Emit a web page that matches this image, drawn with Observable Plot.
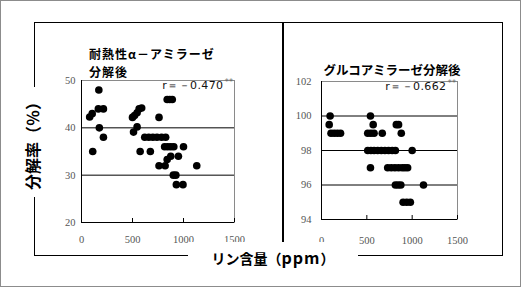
<!DOCTYPE html>
<html>
<head>
<meta charset="utf-8">
<script src="https://cdn.jsdelivr.net/npm/d3@7"></script>
<script src="https://cdn.jsdelivr.net/npm/@observablehq/plot@0.6"></script>
<style>
  html, body { margin: 0; padding: 0; background: #fff; }
  #page { position: relative; width: 521px; height: 287px; overflow: hidden; background: #fff; font-family: "Noto Sans CJK JP", sans-serif; }
  .abs { position: absolute; box-sizing: border-box; }
  .box { border: 1px solid #000; }
  .ttl { font-weight: bold; color: #000; white-space: nowrap; }
  g[aria-label="text"] text { letter-spacing: 0.4px; }
</style>
</head>
<body>
<div id="page">
  <div class="abs" style="left:0;top:0;width:521px;height:287px;border:1px solid #8c8c8c;"></div>
  <div class="abs box" style="left:34px;top:22px;width:250px;height:234px;"></div>
  <div class="abs box" style="left:282px;top:22px;width:221px;height:234px;"></div>
  <div id="leftPlot" class="abs" style="left:40px;top:70px;"></div>
  <div id="rightPlot" class="abs" style="left:280px;top:70px;"></div>
  <div id="leftTitle1" class="abs ttl" style="left:89px;top:46px;height:16px;font-size:12px;line-height:16px;letter-spacing:1px;"></div>
  <div id="leftTitle2" class="abs ttl" style="left:89px;top:64px;height:16px;font-size:12px;line-height:16px;letter-spacing:1px;"></div>
  <div id="rightTitle" class="abs ttl" style="left:292px;top:62px;width:200px;height:16px;text-align:center;font-size:12.5px;line-height:16px;"></div>
  <div id="yLabel" class="abs ttl" style="left:-23px;top:132px;width:110px;height:20px;line-height:20px;text-align:center;background:#fff;font-size:16px;transform:rotate(-90deg);"></div>
  <div id="xLabel" class="abs ttl" style="left:188px;top:242px;width:170px;height:28px;padding-top:2px;line-height:26px;text-align:center;background:#fff;font-size:14px;"></div>
</div>
<script>
// ---- text ----
const leftTitleLines = ["耐熱性α－アミラーゼ", "分解後"];
const rightTitleText = "グルコアミラーゼ分解後";
const yLabelText = "分解率（％）";
const xLabelMain = "リン含量";
const xLabelUnit = "ppm";
const leftR = "r＝－0.470";
const rightR = "r＝－0.662";
const sigMark = "**";

// ---- axes ----
const xTicks = [0, 500, 1000, 1500];
const leftYTicks = [20, 30, 40, 50];
const leftGrid = [30, 40];
const rightYTicks = [94, 96, 98, 100, 102];
const rightGrid = [96, 98, 100];

// ---- data: 耐熱性α-アミラーゼ分解後 ----
const leftP = [80, 105, 170, 165, 215, 175, 215, 110,
  500, 520, 545, 565, 590, 510, 545, 575, 675, 760,
  620, 660, 700, 740, 785, 825,
  840, 865, 890,
  815, 845, 875, 905, 1000,
  875, 950, 840, 760, 820, 1130,
  900, 925, 930, 995];
const leftV = [42.3, 43, 48, 44, 44, 40, 38, 35,
  42.2, 42.6, 43.2, 44, 44.2, 39.1, 40.2, 35, 35, 42.2,
  38, 38, 38, 38, 38, 38,
  46, 46, 46,
  36, 36, 36, 36, 36,
  34, 34, 33.3, 32, 32, 32,
  30, 30, 28, 28];

// ---- data: グルコアミラーゼ分解後 ----
const rightP = [95, 540,
  85, 570, 825, 850,
  105, 140, 175, 210, 510, 545, 580, 670, 880,
  510, 545, 580, 620, 660, 700, 740, 780, 815, 1000,
  540, 730, 770, 810, 850, 890, 920, 950,
  815, 845, 875, 1125,
  900, 940, 980];
const rightV = [100, 100,
  99.5, 99.5, 99.5, 99.5,
  99, 99, 99, 99, 99, 99, 99, 99, 99,
  98, 98, 98, 98, 98, 98, 98, 98, 98, 98,
  97, 97, 97, 97, 97, 97, 97, 97,
  96, 96, 96, 96,
  95, 95, 95];

const leftData = leftP.map((p, i) => ({p, v: leftV[i]}));
const rightData = rightP.map((p, i) => ({p, v: rightV[i]}));

function panel({data, yDomain, yTicks, grid, rText, width, height, mL, mR, mT, mB, xPad, yPad}) {
  const plotH = height - mT - mB;
  return Plot.plot({
    width, height,
    marginLeft: mL, marginRight: mR, marginTop: mT, marginBottom: mB,
    style: {fontFamily: "Liberation Serif, serif", fontSize: "10.5px", color: "#555", background: "transparent", overflow: "visible"},
    x: {domain: [0, 1500], ticks: xTicks, tickSize: 0, tickPadding: xPad, tickFormat: d3.format("d"), label: null},
    y: {domain: yDomain, ticks: yTicks, tickSize: 0, tickPadding: yPad, tickFormat: d3.format("d"), label: null},
    marks: [
      Plot.frame({stroke: "#8a8a8a"}),
      Plot.ruleY(grid, {stroke: "#000", strokeWidth: 1}),
      Plot.ruleY([yDomain[0]], {stroke: "#000"}),
      Plot.ruleX([0], {stroke: "#000"}),
      Plot.ruleX(xTicks, {stroke: "#000", insetTop: plotH - 4}),
      Plot.dot(data, {x: "p", y: "v", r: 3.8, fill: "#000", stroke: "none"}),
      Plot.text([rText], {frameAnchor: "top-right", text: d => d, dx: -11, dy: 1, fontSize: 11, fill: "#111", fontFamily: "DejaVu Sans, sans-serif"}),
      Plot.text([sigMark], {frameAnchor: "top-right", text: d => d, dx: -1, dy: -1, fontSize: 8, fill: "#666", fontFamily: "DejaVu Sans, sans-serif"})
    ]
  });
}

document.getElementById("leftPlot").appendChild(panel({
  data: leftData, yDomain: [20, 50], yTicks: leftYTicks, grid: leftGrid, rText: leftR,
  width: 205, height: 180, mL: 41, mR: 11, mT: 10, mB: 28, xPad: 13, yPad: 6
}));
document.getElementById("rightPlot").appendChild(panel({
  data: rightData, yDomain: [94, 102], yTicks: rightYTicks, grid: rightGrid, rText: rightR,
  width: 190, height: 180, mL: 41, mR: 13, mT: 11, mB: 31, xPad: 17, yPad: 10
}));

document.getElementById("leftTitle1").textContent = leftTitleLines[0];
document.getElementById("leftTitle2").textContent = leftTitleLines[1];
document.getElementById("rightTitle").textContent = rightTitleText;
document.getElementById("yLabel").textContent = yLabelText;
const xl = document.getElementById("xLabel");
xl.append(xLabelMain + "（");
const unit = document.createElement("span");
unit.textContent = xLabelUnit;
unit.style.fontSize = "16px";
unit.style.letterSpacing = "1px";
xl.append(unit, "）");
</script>
</body>
</html>
